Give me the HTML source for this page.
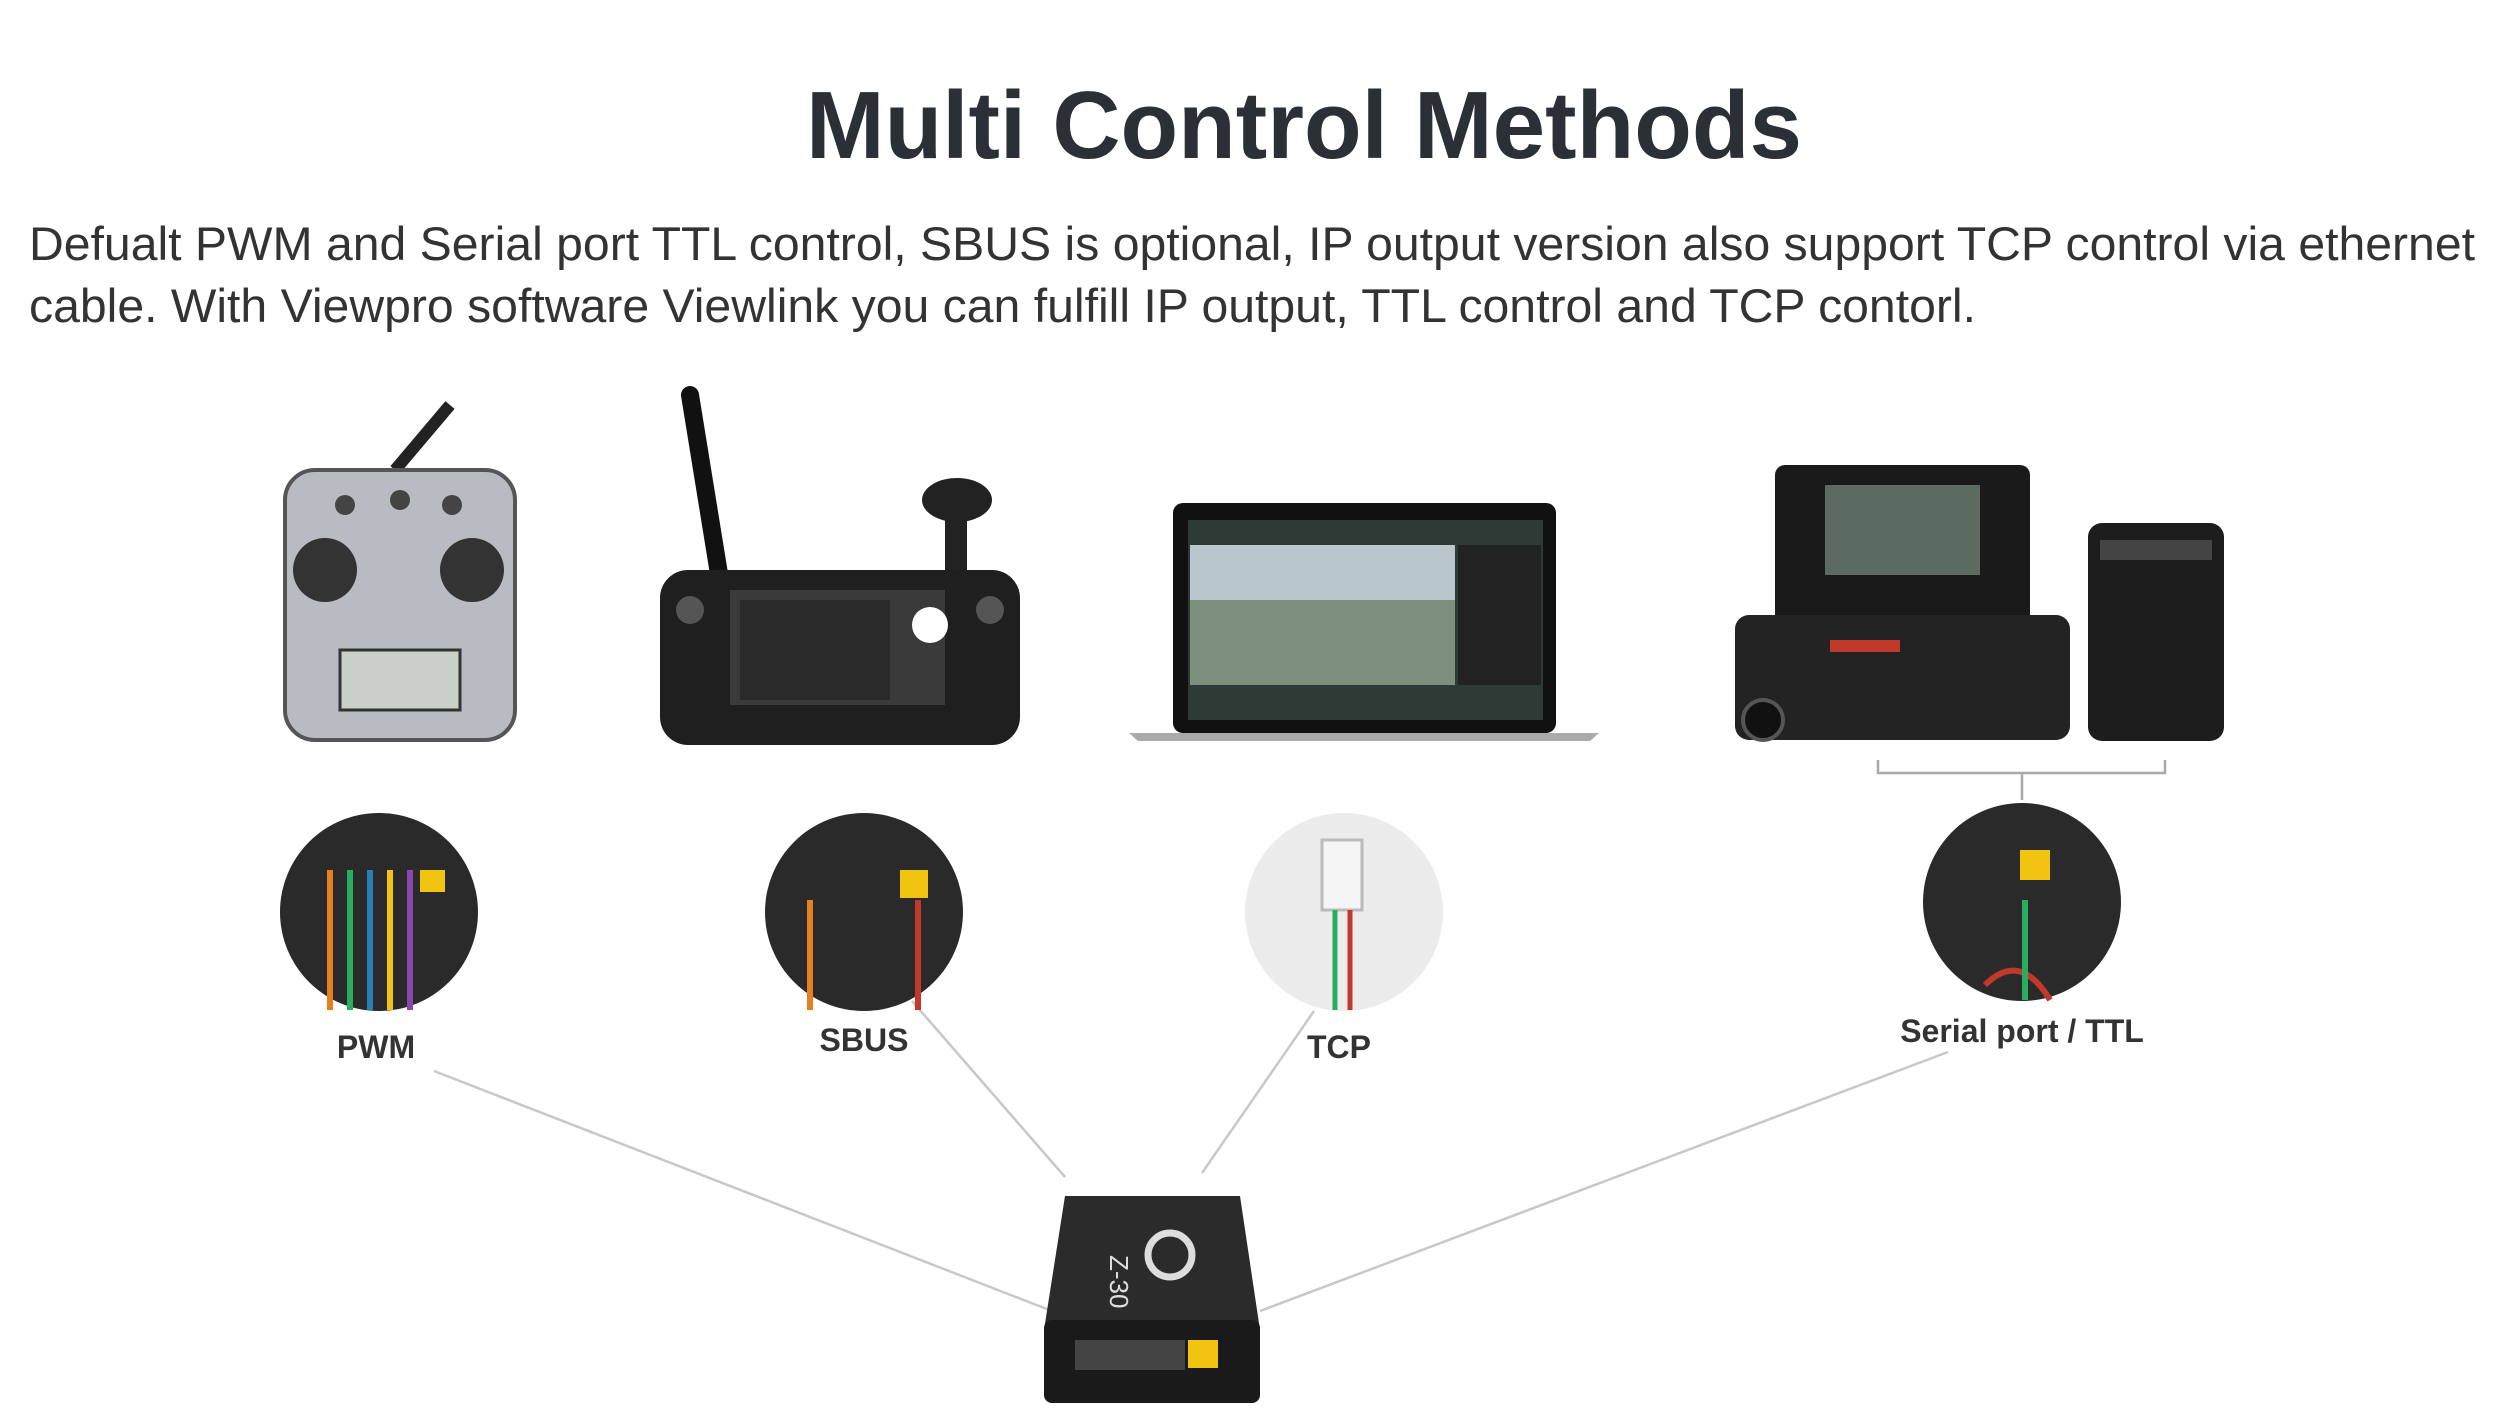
<!DOCTYPE html>
<html><head><meta charset="utf-8"><style>
html,body{margin:0;padding:0;background:#fff;width:2500px;height:1425px;overflow:hidden}
</style></head><body>
<svg width="2500" height="1425" viewBox="0 0 2500 1425" xmlns="http://www.w3.org/2000/svg" font-family="Liberation Sans, sans-serif">
<text x="1304" y="158" text-anchor="middle" font-size="96" font-weight="bold" fill="#2b2f36" textLength="996" lengthAdjust="spacingAndGlyphs">Multi Control Methods</text>
<text x="29" y="260" font-size="47" fill="#333" textLength="2446" lengthAdjust="spacingAndGlyphs">Defualt PWM and Serial port TTL control, SBUS is optional, IP output version also support TCP control via ethernet</text>
<text x="29" y="322" font-size="47" fill="#333" textLength="1947" lengthAdjust="spacingAndGlyphs">cable. With Viewpro software Viewlink you can fulfill IP output, TTL control and TCP contorl.</text>

<g stroke="#c8c8c8" stroke-width="2.5" fill="none">
<line x1="434" y1="1071" x2="1052" y2="1311"/>
<line x1="912" y1="1001" x2="1065" y2="1177"/>
<line x1="1314" y1="1011" x2="1202" y2="1173"/>
<line x1="1948" y1="1052" x2="1260" y2="1311"/>
<path d="M1878 760 V773 H2165 V760 M2022 773 V800" stroke="#aaa"/>
</g>

<g>
<line x1="395" y1="470" x2="450" y2="405" stroke="#222" stroke-width="12"/>
<rect x="285" y="470" width="230" height="270" rx="30" fill="#b8bcc2" stroke="#555" stroke-width="4"/>
<circle cx="325" cy="570" r="32" fill="#333"/><circle cx="472" cy="570" r="32" fill="#333"/>
<rect x="340" y="650" width="120" height="60" fill="#c9d0c8" stroke="#333" stroke-width="3"/>
<circle cx="345" cy="505" r="10" fill="#444"/><circle cx="400" cy="500" r="10" fill="#444"/><circle cx="452" cy="505" r="10" fill="#444"/>
</g>

<g>
<line x1="690" y1="395" x2="720" y2="580" stroke="#111" stroke-width="18" stroke-linecap="round"/>
<ellipse cx="957" cy="500" rx="35" ry="22" fill="#222"/><rect x="945" y="505" width="22" height="70" fill="#222"/>
<rect x="660" y="570" width="360" height="175" rx="28" fill="#1f1f1f"/>
<rect x="730" y="590" width="215" height="115" fill="#3a3a3a"/>
<rect x="740" y="600" width="150" height="100" fill="#2a2a2a"/>
<circle cx="930" cy="625" r="18" fill="#fff"/>
<circle cx="690" cy="610" r="14" fill="#555"/><circle cx="990" cy="610" r="14" fill="#555"/>
</g>

<g>
<rect x="1173" y="503" width="383" height="230" rx="10" fill="#111"/>
<rect x="1188" y="520" width="355" height="200" fill="#2d3a35"/>
<rect x="1190" y="545" width="265" height="140" fill="#7d8f7e"/>
<rect x="1190" y="545" width="265" height="55" fill="#b9c6cc"/>
<rect x="1458" y="545" width="83" height="140" fill="#222"/>
<path d="M1129 733 H1599 L1590 741 H1138 Z" fill="#aaa"/>
</g>

<g>
<rect x="1775" y="465" width="255" height="160" rx="10" fill="#1a1a1a"/>
<rect x="1825" y="485" width="155" height="90" fill="#5b6b60"/>
<rect x="1735" y="615" width="335" height="125" rx="14" fill="#232323"/>
<rect x="1830" y="640" width="70" height="12" fill="#c0392b"/>
<circle cx="1763" cy="720" r="20" fill="#111" stroke="#555" stroke-width="4"/>
<rect x="2088" y="523" width="136" height="218" rx="14" fill="#1d1d1d"/>
<rect x="2100" y="540" width="112" height="20" fill="#444"/>
</g>

<circle cx="379" cy="912" r="99" fill="#2a2a2a"/>
<g stroke-width="6" fill="none"><path d="M330 870 V1010" stroke="#e67e22"/><path d="M350 870 V1010" stroke="#27ae60"/><path d="M370 870 V1010" stroke="#2980b9"/><path d="M390 870 V1010" stroke="#f1c40f"/><path d="M410 870 V1010" stroke="#8e44ad"/></g>
<rect x="420" y="870" width="25" height="22" fill="#f1c40f"/>
<circle cx="864" cy="912" r="99" fill="#2a2a2a"/>
<path d="M810 900 V1010" stroke="#e67e22" stroke-width="6"/><path d="M918 900 V1010" stroke="#c0392b" stroke-width="6"/>
<rect x="900" y="870" width="28" height="28" fill="#f1c40f"/>
<circle cx="1344" cy="912" r="99" fill="#ececec"/>
<rect x="1322" y="840" width="40" height="70" fill="#f5f5f5" stroke="#bbb" stroke-width="3"/>
<path d="M1335 910 V1010" stroke="#27ae60" stroke-width="5"/><path d="M1350 910 V1010" stroke="#c0392b" stroke-width="5"/>
<circle cx="2022" cy="902" r="99" fill="#2a2a2a"/>
<rect x="2020" y="850" width="30" height="30" fill="#f1c40f"/>
<path d="M1985 985 Q2020 950 2050 1000" stroke="#c0392b" stroke-width="6" fill="none"/>
<path d="M2025 900 V1000" stroke="#27ae60" stroke-width="6"/>

<g font-size="32" fill="#333" text-anchor="middle" font-weight="bold">
<text x="376" y="1058">PWM</text>
<text x="864" y="1051">SBUS</text>
<text x="1339" y="1058">TCP</text>
<text x="2022" y="1042">Serial port / TTL</text>
</g>

<g>
<path d="M1065 1196 H1240 L1260 1330 H1044 Z" fill="#2b2b2b"/>
<rect x="1044" y="1320" width="216" height="83" rx="8" fill="#1a1a1a"/>
<rect x="1075" y="1340" width="110" height="30" fill="#444"/>
<rect x="1188" y="1340" width="30" height="28" fill="#f1c40f"/>
<circle cx="1170" cy="1255" r="22" fill="none" stroke="#ddd" stroke-width="7"/>
<text x="1120" y="1265" font-size="26" fill="#ddd" transform="rotate(90 1120 1255)">Z-30</text>
</g>
</svg>
</body></html>
